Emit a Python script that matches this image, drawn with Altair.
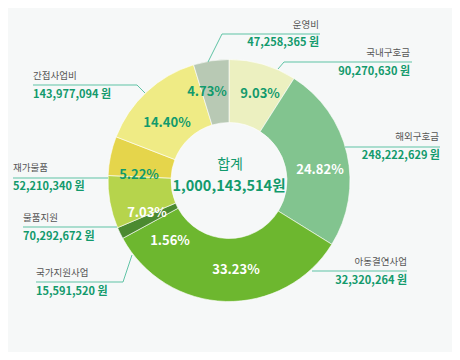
import altair as alt
import pandas as pd

# ---- data ----
names = ["국내구호금", "해외구호금", "아동결연사업", "국가지원사업", "물품지원", "재가물품", "간접사업비", "운영비"]
amounts = ["90,270,630", "248,222,629", "32,320,264", "15,591,520", "70,292,672", "52,210,340", "143,977,094", "47,258,365"]
pcts = [9.03, 24.82, 33.23, 1.56, 7.03, 5.22, 14.40, 4.73]
total_label = "1,000,143,514원"
center_title = "합계"

# ---- styles ----
slice_colors = ["#ecf0c0", "#82c48f", "#6db72f", "#4b8a30", "#b6d44c", "#e5d54b", "#efeb85", "#b8c9b4"]
TEAL = "#129a6c"
pct_text_colors = [TEAL, "white", "white", "white", "white", TEAL, TEAL, TEAL]
LINE = "#5fc3a5"
BG = "#f6f8f8"
FONT = "Noto Sans CJK KR"

W, H = 444, 344
CX, CY = 221, 172.5
M = 8  # page margin

# ---- layout (page pixel coordinates) ----
pct_pos = [(260, 94), (320, 170), (236, 270), (170, 241), (147, 213), (139, 175), (167, 123), (207, 92)]
name_pos = [(410, 53), (439, 137), (407, 262), (36, 273), (23, 218), (13, 168), (33, 76), (319, 25)]
value_pos = [(410, 72), (440, 156), (407, 281), (36, 292), (23, 237), (13, 187), (33, 95), (319, 43)]
sides = ["right", "right", "right", "left", "left", "left", "left", "right"]
leaders = [
    [(278, 69), (284, 62), (412, 62)],
    [(345, 147), (440, 147)],
    [(312, 271), (407, 271)],
    [(132, 255), (123, 282), (36, 282)],
    [(117, 227), (23, 227)],
    [(108, 178), (13, 178)],
    [(145, 93), (137, 85), (33, 85)],
    [(208, 62), (222, 34), (320, 34)],
]

slices = pd.DataFrame({
    "name": names, "pct": pcts, "order": list(range(len(names))),
    "label": [f"{p:.2f}%" for p in pcts],
    "tcolor": pct_text_colors,
    "px": [p[0] - M for p in pct_pos], "py": [p[1] - M for p in pct_pos],
})

labels = pd.DataFrame({
    "name": names,
    "value": [a + " 원" for a in amounts],
    "side": sides,
    "nx": [p[0] - M for p in name_pos], "ny": [p[1] - M for p in name_pos],
    "vx": [p[0] - M for p in value_pos], "vy": [p[1] - M for p in value_pos],
})

lrows = []
for i, pts in enumerate(leaders):
    for j, (x, y) in enumerate(pts):
        lrows.append({"id": names[i], "seq": j, "lx": x - M, "ly": y - M})
lines_df = pd.DataFrame(lrows)

xs = alt.Scale(domain=[0, W], range=[0, W], nice=False, zero=False)
ys = alt.Scale(domain=[0, H], range=[0, H], nice=False, zero=False)

arcs = alt.Chart(slices).mark_arc(innerRadius=58, outerRadius=121, stroke="white", strokeWidth=0.6).encode(
    theta=alt.Theta("pct:Q", stack=True),
    color=alt.Color("name:N", scale=alt.Scale(domain=names, range=slice_colors), legend=None),
    order=alt.Order("order:Q"),
    x=alt.value(CX), y=alt.value(CY),
)

pct_text = alt.Chart(slices).mark_text(font=FONT, fontSize=13, fontWeight="bold", baseline="middle").encode(
    x=alt.X("px:Q", scale=xs, axis=None),
    y=alt.Y("py:Q", scale=ys, axis=None),
    text="label:N",
    color=alt.Color("tcolor:N", scale=None),
)

leader_lines = alt.Chart(lines_df).mark_line(color=LINE, strokeWidth=1).encode(
    x=alt.X("lx:Q", scale=xs, axis=None),
    y=alt.Y("ly:Q", scale=ys, axis=None),
    detail="id:N",
    order="seq:Q",
)

def side_layers(side):
    base = alt.Chart(labels).transform_filter(alt.datum.side == side)
    n = base.mark_text(font=FONT, fontSize=9.5, color="#555555", align=side, baseline="middle").encode(
        x=alt.X("nx:Q", scale=xs, axis=None), y=alt.Y("ny:Q", scale=ys, axis=None), text="name:N")
    v = base.mark_text(font=FONT, fontSize=11, fontWeight="bold", color=TEAL, align=side, baseline="middle").encode(
        x=alt.X("vx:Q", scale=xs, axis=None), y=alt.Y("vy:Q", scale=ys, axis=None), text="value:N")
    return [n, v]

center_df = pd.DataFrame({"t": [center_title, total_label]})
c1 = alt.Chart(center_df).transform_filter(alt.datum.t == center_title).mark_text(
    font=FONT, fontSize=14, color=TEAL, baseline="middle").encode(
    x=alt.value(230 - M), y=alt.value(165 - M), text="t:N")
c2 = alt.Chart(center_df).transform_filter(alt.datum.t == total_label).mark_text(
    font=FONT, fontSize=14.5, fontWeight="bold", color=TEAL, baseline="middle").encode(
    x=alt.value(229 - M), y=alt.value(187 - M), text="t:N")

chart = alt.layer(
    arcs, leader_lines, pct_text, *side_layers("left"), *side_layers("right"), c1, c2
).properties(
    width=W, height=H, padding=0, autosize=alt.AutoSizeParams(type="none"), background=BG
).configure_view(stroke=None)

chart.save("out.html", embed_options={"renderer": "svg", "actions": False})
